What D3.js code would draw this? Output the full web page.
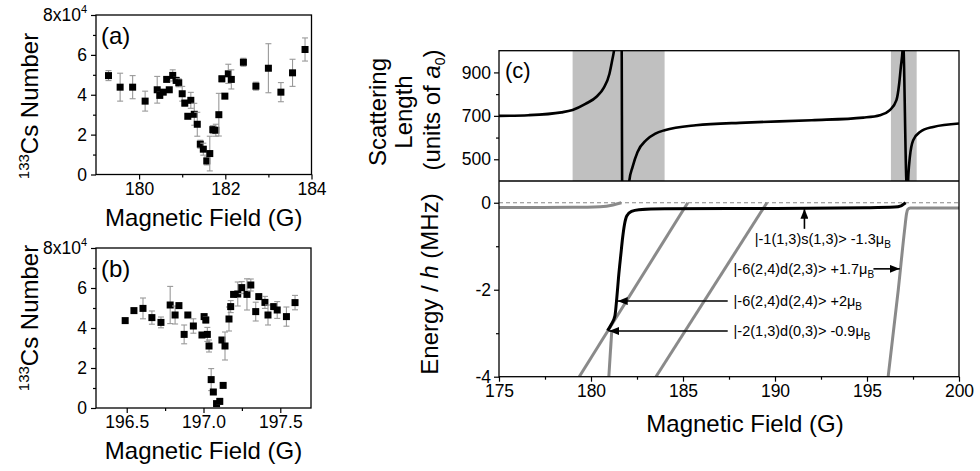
<!DOCTYPE html>
<html>
<head>
  <meta charset="utf-8">
  <style>
    body { margin: 0; padding: 0; background: white; font-family: "Liberation Sans", Arial, sans-serif; }
    .tick text { font-family: "Liberation Sans", Arial, sans-serif; font-size: 17.5px; fill: #000; }
    .tick line { stroke: #000; stroke-width: 1.2; }
    .title { font-size: 24px; fill: #000; }
    .frame { fill: none; stroke: #000; stroke-width: 1.3; }
    .err { stroke: #999; stroke-width: 1.1; }
    .level { font-size: 14.5px; fill: #000; }
  </style>
</head>
<body>
  <div id="chart"></div>
  <script src="https://d3js.org/d3.v7.min.js"></script>
  <script>
    // panel (a): atom number vs field near 181.6 G
    var fieldA = [179.29, 179.56, 179.85, 180.14, 180.42, 180.48, 180.56, 180.64, 180.70, 180.78, 180.86, 180.92,
      181.00, 181.06, 181.13, 181.20, 181.28, 181.35, 181.42, 181.49, 181.57, 181.64, 181.71, 181.78, 181.85,
      181.92, 181.99, 182.07, 182.14, 182.42, 182.71, 183.00, 183.29, 183.56, 183.85]
    var numberA = [4.96, 4.38, 4.38, 3.68, 4.25, 3.97, 4.13, 4.77, 4.25, 4.97, 4.72, 4.60,
      4.05, 3.58, 2.92, 3.72, 3.02, 2.52, 1.52, 1.27, 0.68, 1.05, 2.25, 2.22, 3.00,
      4.80, 3.93, 5.05, 4.77, 5.63, 4.43, 5.33, 4.13, 5.10, 6.27]
    var errA = [0.25, 0.70, 0.58, 0.50, 0.67, 0.15, 0.10, 0.10, 0.10, 0.28, 0.15, 0.20,
      0.37, 0.15, 0.10, 0.40, 0.55, 0.60, 0.20, 0.30, 0.20, 0.87, 0.20, 0.30, 1.07,
      0.15, 0.10, 0.48, 0.48, 0.20, 0.20, 1.23, 0.48, 0.68, 0.58]

    // panel (b): atom number vs field near 197.1 G
    var fieldB = [196.49, 196.547, 196.606, 196.664, 196.723, 196.783, 196.815, 196.84, 196.874, 196.898, 196.934,
      196.99, 197.004, 197.015, 197.025, 197.036, 197.05, 197.064, 197.085, 197.106, 197.12, 197.128, 197.14,
      197.166, 197.177, 197.196, 197.223, 197.249, 197.283, 197.308, 197.34, 197.36, 197.40, 197.42, 197.457,
      197.48, 197.54, 197.596]
    var numberB = [4.37, 4.87, 4.98, 4.52, 4.28, 5.15, 4.65, 5.12, 3.68, 4.65, 4.10,
      3.65, 4.57, 4.40, 3.68, 3.10, 1.42, 0.80, 0.22, 0.33, 3.40, 1.13, 3.10,
      4.45, 5.07, 5.68, 5.70, 6.02, 5.68, 6.15, 4.82, 5.57, 5.28, 4.65, 5.07,
      4.90, 4.57, 5.27]
    var errB = [0.10, 0.10, 0.52, 0.33, 0.27, 0.93, 0.45, 0.10, 0.47, 0.10, 0.36,
      0.10, 0.10, 0.15, 0.35, 0.30, 0.55, 0.10, 0.10, 0.15, 0.10, 0.10, 0.70,
      0.60, 0.30, 0.10, 0.60, 0.30, 0.78, 0.30, 0.47, 0.10, 0.30, 0.50, 0.10,
      0.42, 0.48, 0.36]

    // panel (c) top: scattering length (units of a0); points beyond the axis are clipped
    var scatField = [175, 176.6, 178.4, 179.0, 179.7, 180.3, 180.7, 181.0, 181.15, 181.25, 181.35, 181.66, 181.70,
      182.0, 182.08, 182.26, 182.53, 183.0, 183.5, 184.0, 185.7, 188.4, 192.0, 194.8, 195.7, 196.24, 196.6,
      196.75, 196.84, 196.93, 196.96, 197.16, 197.22, 197.25, 197.33, 197.51, 197.88, 198.6, 200]
    var scatLength = [700, 703, 716, 727, 755, 788, 830, 893, 955, 1000, 1080, 1100, 300,
      300, 400, 465, 534, 588, 618, 634, 657, 669, 680, 692, 703, 726, 772,
      849, 926, 1000, 1050, 380, 380, 430, 511, 588, 626, 649, 665]
    // shaded field ranges scanned in (a) and (b)
    var bandStart = [179.0, 196.3]
    var bandEnd = [184.0, 197.7]

    // panel (c) bottom: bound-state energies (MHz)
    var boundField = [180.9, 181.1, 181.3, 181.4, 181.5, 181.62, 181.72, 181.82, 181.95, 182.2, 182.6, 184, 190, 195, 196.5, 196.85, 197.0, 197.1]
    var boundEnergy = [-2.94, -2.8, -2.6, -2.2, -1.7, -1.2, -0.8, -0.5, -0.3, -0.2, -0.16, -0.14, -0.13, -0.115, -0.1, -0.07, -0.03, 0]
    var greyField = [
      [175, 179, 180.5, 181.2, 181.65],
      [179.36, 185.26],
      [180.97, 181.13],
      [183.53, 189.56],
      [196.15, 196.7, 197.05, 197.15, 197.22, 197.35, 200]
    ]
    var greyEnergy = [
      [-0.11, -0.105, -0.09, -0.05, 0],
      [-4, 0],
      [-4, -2.93],
      [-4, 0],
      [-4, -2, -0.6, -0.25, -0.15, -0.12, -0.12]
    ]

    // state labels and their arrows (field, energy)
    var levelText = ["|-1(1,3)s(1,3)> -1.3", "|-6(2,4)d(2,3)> +1.7", "|-6(2,4)d(2,4)> +2", "|-2(1,3)d(0,3)> -0.9"]
    var levelField = [188.9, 187.75, 187.75, 187.75]
    var levelEnergy = [-0.83, -1.52, -2.26, -2.95]
    var arrowFrom = [[191.6, -0.6], [195.35, -1.52], [187.43, -2.26], [187.43, -2.95]]
    var arrowTo = [[191.6, -0.14], [196.78, -1.52], [181.45, -2.26], [180.98, -2.95]]

    var width = 980,
      height = 471

    var svg = d3.select("#chart").append("svg")
      .attr("width", width)
      .attr("height", height)
      .style("background", "white")

    var defs = svg.append("defs")
    defs.append("marker")
      .attr("id", "head")
      .attr("viewBox", "0 0 10 8")
      .attr("refX", 10).attr("refY", 4)
      .attr("markerWidth", 10).attr("markerHeight", 8)
      .attr("markerUnits", "userSpaceOnUse")
      .attr("orient", "auto")
      .append("path").attr("d", "M0,0L10,4L0,8Z").attr("fill", "#000")

    // plain hyphen minus, like the original figure
    function plain(d) { return String(d) }

    function superLabel(sel, base, sup) {
      sel.text(base)
      sel.append("tspan").attr("font-size", "11px").attr("dy", "-8").text(sup)
    }

    function drawScatter(field, number, err, box, xDomain, xMajor, xMinor, xFmt, tag, yLabelY) {
      var x = d3.scaleLinear().domain(xDomain).range([box.left, box.right])
      var y = d3.scaleLinear().domain([0, 8]).range([box.bottom, box.top])
      var g = svg.append("g")

      // axes
      g.append("g").attr("transform", "translate(0," + box.bottom + ")")
        .call(d3.axisBottom(x).tickValues(xMajor).tickSize(5).tickPadding(3).tickFormat(xFmt))
      g.append("g").attr("transform", "translate(0," + box.bottom + ")")
        .call(d3.axisBottom(x).tickValues(xMinor).tickSize(3).tickFormat(""))
      var yAxisG = g.append("g").attr("transform", "translate(" + box.left + ",0)")
        .call(d3.axisLeft(y).tickValues([0, 2, 4, 6, 8]).tickSize(5).tickPadding(4))
      g.append("g").attr("transform", "translate(" + box.left + ",0)")
        .call(d3.axisLeft(y).tickValues([1, 3, 5, 7]).tickSize(3).tickFormat(""))
      g.selectAll(".domain").remove()
      yAxisG.selectAll(".tick text").filter(function(d) { return d === 8 })
        .each(function() { superLabel(d3.select(this), "8x10", "4") })

      g.append("rect").attr("class", "frame")
        .attr("x", box.left).attr("y", box.top)
        .attr("width", box.right - box.left).attr("height", box.bottom - box.top)

      // error bars
      var pts = g.append("g").selectAll("g").data(field).enter().append("g")
      pts.append("line").attr("class", "err")
        .attr("x1", function(d) { return x(d) }).attr("x2", function(d) { return x(d) })
        .attr("y1", function(d, i) { return y(number[i] - err[i]) })
        .attr("y2", function(d, i) { return y(number[i] + err[i]) })
      ;[-1, 1].forEach(function(s) {
        pts.append("line").attr("class", "err")
          .attr("x1", function(d) { return x(d) - 3 }).attr("x2", function(d) { return x(d) + 3 })
          .attr("y1", function(d, i) { return y(number[i] + s * err[i]) })
          .attr("y2", function(d, i) { return y(number[i] + s * err[i]) })
      })
      pts.append("rect")
        .attr("x", function(d) { return x(d) - 3.5 })
        .attr("y", function(d, i) { return y(number[i]) - 3.5 })
        .attr("width", 7).attr("height", 7)
        .attr("fill", "#000")

      g.append("text").attr("class", "title").attr("x", box.left + 5).attr("y", box.top + 29).text(tag)

      var yl = g.append("text").attr("class", "title")
        .attr("transform", "translate(38," + yLabelY + ") rotate(-90)")
        .attr("text-anchor", "middle")
      yl.append("tspan").attr("font-size", "15px").attr("dy", "-9").text("133")
      yl.append("tspan").attr("dy", "9").text("Cs Number")

      g.append("text").attr("class", "title")
        .attr("x", (box.left + box.right) / 2 + 0).attr("y", box.bottom + 51)
        .attr("text-anchor", "middle").text("Magnetic Field (G)")
    }

    drawScatter(fieldA, numberA, errA, { left: 96, right: 311.5, top: 15, bottom: 174.5 },
      [179, 184], [180, 182, 184], [181, 183], d3.format("d"), "(a)", 106)
    drawScatter(fieldB, numberB, errB, { left: 96, right: 311, top: 248, bottom: 408 },
      [196.3, 197.7], [196.5, 197.0, 197.5], [196.75, 197.25], d3.format(".1f"), "(b)", 318)

    // panel (c)
    var cLeft = 499,
      cRight = 959,
      cTop = 50.7,
      cMid = 181,
      cBottom = 376.7

    var xc = d3.scaleLinear().domain([175, 200]).range([cLeft, cRight])
    var ya = d3.scaleLinear().domain([400, 1000]).range([cMid, cTop])
    var ye = d3.scaleLinear().domain([-4, 0.5]).range([cBottom, cMid])

    defs.append("clipPath").attr("id", "clipTop").append("rect")
      .attr("x", cLeft).attr("y", cTop).attr("width", cRight - cLeft).attr("height", cMid - cTop)
    defs.append("clipPath").attr("id", "clipBot").append("rect")
      .attr("x", cLeft).attr("y", cMid).attr("width", cRight - cLeft).attr("height", cBottom - cMid)

    var topG = svg.append("g").attr("clip-path", "url(#clipTop)")
    topG.selectAll("rect").data(bandStart).enter().append("rect")
      .attr("x", function(d) { return xc(d) })
      .attr("width", function(d, i) { return xc(bandEnd[i]) - xc(d) })
      .attr("y", cTop).attr("height", cMid - cTop)
      .attr("fill", "#c0c0c0")

    var scatLine = d3.line()
      .x(function(d) { return xc(d) })
      .y(function(d, i) { return ya(scatLength[i]) })
      .curve(d3.curveMonotoneX)
    topG.append("path").attr("d", scatLine(scatField))
      .attr("fill", "none").attr("stroke", "#000").attr("stroke-width", 2.6)

    var botG = svg.append("g").attr("clip-path", "url(#clipBot)")
    botG.append("line")
      .attr("x1", xc(175)).attr("x2", xc(200)).attr("y1", ye(0)).attr("y2", ye(0))
      .attr("stroke", "#888").attr("stroke-width", 1.1).attr("stroke-dasharray", "4,3")

    greyField.forEach(function(f, k) {
      var ln = d3.line()
        .x(function(d) { return xc(d) })
        .y(function(d, i) { return ye(greyEnergy[k][i]) })
        .curve(d3.curveMonotoneX)
      botG.append("path").attr("d", ln(f))
        .attr("fill", "none").attr("stroke", "#8a8a8a").attr("stroke-width", 3)
    })

    var boundLine = d3.line()
      .x(function(d) { return xc(d) })
      .y(function(d, i) { return ye(boundEnergy[i]) })
      .curve(d3.curveMonotoneX)
    botG.append("path").attr("d", boundLine(boundField))
      .attr("fill", "none").attr("stroke", "#000").attr("stroke-width", 3)

    // state labels
    levelText.forEach(function(t, i) {
      var tx = svg.append("text").attr("class", "level")
        .attr("x", xc(levelField[i])).attr("y", ye(levelEnergy[i]) + 5)
      tx.append("tspan").text(t + "μ")
      tx.append("tspan").attr("font-size", "10px").attr("dy", "4").text("B")
      svg.append("line")
        .attr("x1", xc(arrowFrom[i][0])).attr("y1", ye(arrowFrom[i][1]))
        .attr("x2", xc(arrowTo[i][0])).attr("y2", ye(arrowTo[i][1]))
        .attr("stroke", "#000").attr("stroke-width", 1.6)
        .attr("marker-end", "url(#head)")
    })

    // axes of panel (c)
    var ax = svg.append("g")
    ax.append("g").attr("transform", "translate(0," + cBottom + ")")
      .call(d3.axisBottom(xc).tickValues([175, 180, 185, 190, 195, 200]).tickSize(5).tickPadding(3).tickFormat(plain))
    ax.append("g").attr("transform", "translate(0," + cBottom + ")")
      .call(d3.axisBottom(xc).tickValues([177.5, 182.5, 187.5, 192.5, 197.5]).tickSize(3).tickFormat(""))
    ax.append("g").attr("transform", "translate(" + cLeft + ",0)")
      .call(d3.axisLeft(ya).tickValues([500, 700, 900]).tickSize(5).tickPadding(3).tickFormat(plain))
    ax.append("g").attr("transform", "translate(" + cLeft + ",0)")
      .call(d3.axisLeft(ya).tickValues([600, 800]).tickSize(3).tickFormat(""))
    ax.append("g").attr("transform", "translate(" + cLeft + ",0)")
      .call(d3.axisLeft(ye).tickValues([0, -2, -4]).tickSize(5).tickPadding(3).tickFormat(plain))
    ax.append("g").attr("transform", "translate(" + cLeft + ",0)")
      .call(d3.axisLeft(ye).tickValues([-1, -3]).tickSize(3).tickFormat(""))
    ax.selectAll(".domain").remove()

    ax.append("rect").attr("class", "frame")
      .attr("x", cLeft).attr("y", cTop).attr("width", cRight - cLeft).attr("height", cBottom - cTop)
    ax.append("line").attr("x1", cLeft).attr("x2", cRight).attr("y1", cMid).attr("y2", cMid)
      .attr("stroke", "#000").attr("stroke-width", 1.3)

    ax.append("text").attr("class", "title").attr("x", cLeft + 6).attr("y", cTop + 27)
      .style("font-size", "22px").text("(c)")

    // axis titles
    function rotText(x, y) {
      return svg.append("text").attr("class", "title")
        .attr("transform", "translate(" + x + "," + y + ") rotate(-90)")
        .attr("text-anchor", "middle")
    }
    rotText(386, 112).text("Scattering")
    rotText(412, 112).text("Length")
    var un = rotText(440, 110)
    un.append("tspan").text("(units of ")
    un.append("tspan").style("font-style", "italic").text("a")
    un.append("tspan").attr("font-size", "14px").attr("dy", "5").text("0")
    un.append("tspan").attr("dy", "-5").text(")")
    var en = rotText(438, 284)
    en.append("tspan").text("Energy / ")
    en.append("tspan").style("font-style", "italic").text("h")
    en.append("tspan").text(" (MHz)")

    svg.append("text").attr("class", "title")
      .attr("x", (cLeft + cRight) / 2 + 16).attr("y", 432)
      .attr("text-anchor", "middle").text("Magnetic Field (G)")
  </script>
</body>
</html>
